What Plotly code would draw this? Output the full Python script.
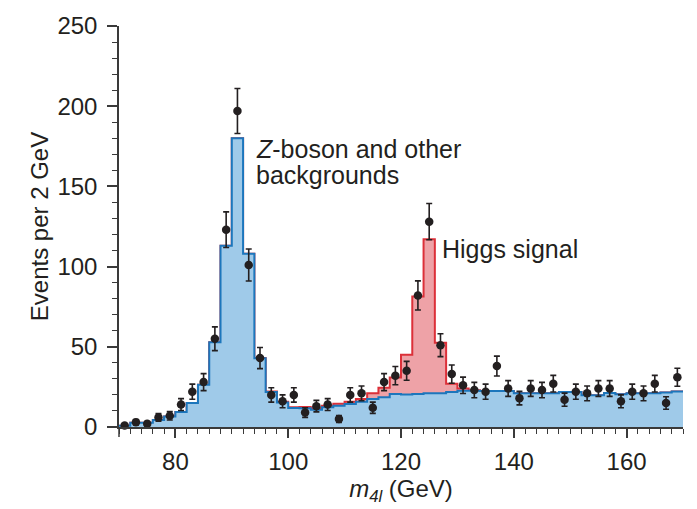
import plotly.graph_objects as go

# ---- data ----
bin_edges = list(range(70, 172, 2))              # 2 GeV bins, 70..170
bin_centers = [e + 1 for e in bin_edges[:-1]]

background = [0.8, 2.6, 2.6, 4.3, 6.5, 9.3, 15.0, 26.4, 52.8, 113,
              180, 108, 42.8, 21.8, 15.3, 11.8, 11.7, 10.8, 12.3, 13.2,
              14.4, 15.8, 17.5, 18.6, 20.6, 20.2, 20.6, 21.0, 21.0, 21.8,
              22.6, 22.6, 22.4, 22.4, 22.4, 21.1, 21.1, 21.1, 21.1, 21.8,
              21.8, 19.8, 19.8, 21.2, 20.4, 21.0, 21.0, 21.0, 21.5, 22.2]

higgs_signal = [0, 0, 0, 0, 0, 0, 0, 0, 0, 0,
                0, 0, 0.2, 0.4, 0.4, 0.5, 0.7, 0.9, 1.0, 1.3,
                1.4, 1.7, 3.6, 5.9, 10.2, 24.8, 60.8, 96.0, 31.5, 5.2,
                1.4, 0.3, 0, 0, 0, 0, 0, 0, 0, 0,
                0, 0, 0, 0, 0, 0, 0, 0, 0, 0]

observed = [1, 3, 2, 6, 7, 14, 22, 28, 55, 123,
            197, 101, 43, 20, 16, 20, 9, 13, 14, 5,
            20, 21, 12, 28, 32, 35, 82, 128, 51, 33,
            26, 23, 22, 38, 24, 18, 24, 23, 27, 17,
            22, 21, 24, 24, 16, 22, 21, 27, 15, 31]

observed_err = [1.0, 1.7, 1.4, 2.4, 2.6, 3.7, 4.7, 5.3, 7.4, 11.1,
                14.0, 10.0, 6.6, 4.5, 4.0, 4.5, 3.0, 3.6, 3.7, 2.2,
                4.5, 4.6, 3.5, 5.3, 5.7, 5.9, 9.1, 11.3, 7.1, 5.7,
                5.1, 4.8, 4.7, 6.2, 4.9, 4.2, 4.9, 4.8, 5.2, 4.1,
                4.7, 4.6, 4.9, 4.9, 4.0, 4.7, 4.6, 5.2, 3.9, 5.6]

y_ticks = [0, 50, 100, 150, 200, 250]
x_ticks = [80, 100, 120, 140, 160]

# ---- style ----
TXT = "#231f20"
AX = "#3a3a3a"
FONT = "Liberation Sans, Arial, Helvetica, sans-serif"
BLUE_FILL = "#9fcae9"
BLUE_LINE = "#1c76bc"
RED_FILL = "#eea2a7"
RED_LINE = "#dc3039"

total = [b + s for b, s in zip(background, higgs_signal)]

fig = go.Figure()

# signal + background (red), drawn first
fig.add_trace(go.Scatter(
    x=bin_edges, y=total + [total[-1]],
    mode="lines", line=dict(shape="hv", color=RED_LINE, width=2),
    fill="tozeroy", fillcolor=RED_FILL, hoverinfo="skip", showlegend=False))

# background (blue) on top
fig.add_trace(go.Scatter(
    x=bin_edges, y=background + [background[-1]],
    mode="lines", line=dict(shape="hv", color=BLUE_LINE, width=2),
    fill="tozeroy", fillcolor=BLUE_FILL, hoverinfo="skip", showlegend=False))

# data points
fig.add_trace(go.Scatter(
    x=bin_centers, y=observed, mode="markers",
    marker=dict(color=TXT, size=8.5),
    error_y=dict(type="data", array=observed_err, color=TXT,
                 thickness=1.6, width=3),
    cliponaxis=False, showlegend=False))

fig.update_layout(
    width=697, height=509,
    margin=dict(l=119, r=13.5, t=17, b=80),
    paper_bgcolor="white", plot_bgcolor="white",
    font=dict(family=FONT, color=TXT, size=24),
    showlegend=False,
    xaxis=dict(
        range=[70, 170], showgrid=False, zeroline=False,
        showline=True, linecolor=AX, linewidth=1.5,
        tickvals=x_ticks, ticks="outside", ticklen=9, tickwidth=1.5,
        tickcolor=AX, ticklabelstandoff=3,
        tickfont=dict(size=24, color=TXT, family=FONT),
        minor=dict(dtick=2, tick0=70, ticks="outside", ticklen=5,
                   tickwidth=1.2, tickcolor=AX),
        title=dict(text="<i>m</i><sub><i>4l</i></sub> (GeV)",
                   font=dict(size=24, color=TXT, family=FONT), standoff=6),
    ),
    yaxis=dict(
        range=[0, 250], showgrid=False, zeroline=False,
        showline=True, linecolor=AX, linewidth=1.5,
        tickvals=y_ticks, ticks="outside", ticklen=10, tickwidth=1.5,
        tickcolor=AX, ticklabelstandoff=5,
        tickfont=dict(size=24, color=TXT, family=FONT),
        minor=dict(dtick=10, tick0=0, ticks="outside", ticklen=5,
                   tickwidth=1.2, tickcolor=AX),
        title=dict(text="Events per 2 GeV",
                   font=dict(size=24, color=TXT, family=FONT), standoff=2),
    ),
    shapes=[dict(type="line", xref="paper", yref="paper",
                 x0=0, x1=0, y0=0, y1=-0.025,
                 line=dict(color=AX, width=1.5))],
    annotations=[
        dict(x=94.0, y=173.5, xref="x", yref="y", xanchor="left",
             yanchor="middle", showarrow=False,
             text="<i>Z</i>-boson and other",
             font=dict(size=25, color=TXT, family=FONT)),
        dict(x=94.0, y=157.0, xref="x", yref="y", xanchor="left",
             yanchor="middle", showarrow=False,
             text="backgrounds",
             font=dict(size=25, color=TXT, family=FONT)),
        dict(x=127.0, y=111, xref="x", yref="y", xanchor="left",
             yanchor="middle", showarrow=False,
             text="Higgs signal",
             font=dict(size=25, color=TXT, family=FONT)),
    ],
)

fig.write_html("out.html")
